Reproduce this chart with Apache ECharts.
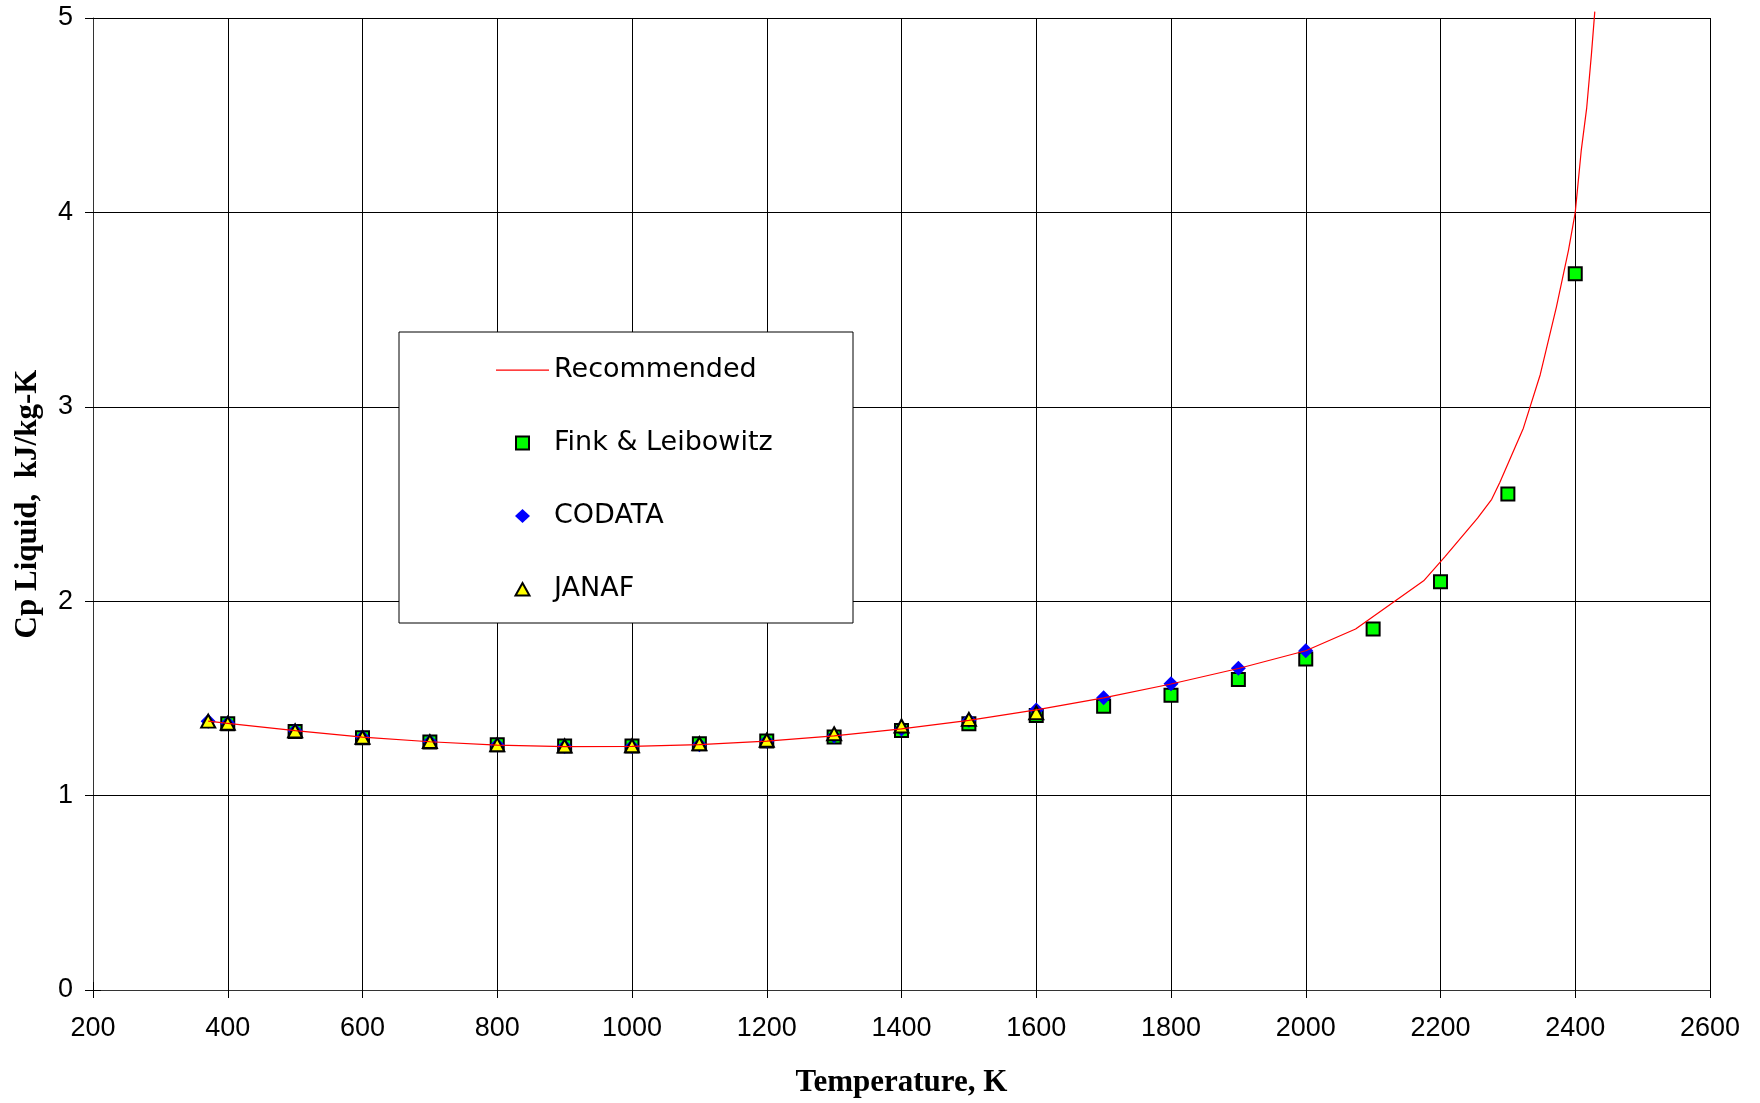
<!DOCTYPE html>
<html>
<head>
<meta charset="utf-8">
<script src="https://cdn.jsdelivr.net/npm/echarts@6/dist/echarts.min.js"></script>
<style>
  html, body { margin: 0; padding: 0; background: #fff; }
  #chart { width: 1760px; height: 1103px; }
</style>
</head>
<body>
<div id="chart"></div>
<script>
  // recommended curve
  var tempLine = [371, 400, 500, 600, 700, 800, 900, 1000, 1100, 1200, 1300, 1400, 1500, 1600, 1700, 1800, 1900, 2000,
                  2074, 2175, 2207, 2255, 2276, 2288, 2323, 2348, 2372, 2390, 2400, 2409, 2417, 2424, 2429];
  var cpLine   = [1.383, 1.372, 1.334, 1.301, 1.277, 1.260, 1.252, 1.253, 1.262, 1.280, 1.307, 1.343, 1.387, 1.441, 1.503, 1.574, 1.654, 1.745,
                  1.857, 2.105, 2.231, 2.427, 2.524, 2.611, 2.890, 3.165, 3.513, 3.806, 4.000, 4.322, 4.538, 4.813, 5.033];

  var tempFink = [400, 500, 600, 700, 800, 900, 1000, 1100, 1200, 1300, 1400, 1500, 1600, 1700, 1800, 1900, 2000, 2100, 2200, 2300, 2400];
  var cpFink   = [1.370, 1.330, 1.298, 1.276, 1.261, 1.255, 1.255, 1.267, 1.281, 1.301, 1.335, 1.370, 1.412, 1.460, 1.516, 1.597, 1.703, 1.857, 2.100, 2.551, 3.685];

  var tempCodata = [371, 400, 500, 600, 700, 800, 900, 1000, 1100, 1200, 1300, 1400, 1500, 1600, 1700, 1800, 1900, 2000];
  var cpCodata   = [1.383, 1.372, 1.334, 1.300, 1.277, 1.260, 1.252, 1.253, 1.262, 1.280, 1.307, 1.343, 1.387, 1.440, 1.503, 1.575, 1.655, 1.745];

  var tempJanaf = [371, 400, 500, 600, 700, 800, 900, 1000, 1100, 1200, 1300, 1400, 1500, 1600];
  var cpJanaf   = [1.383, 1.372, 1.333, 1.300, 1.278, 1.262, 1.255, 1.256, 1.267, 1.285, 1.318, 1.358, 1.392, 1.426];

  function pairs(xs, ys) {
    return xs.map(function (x, i) { return [x, ys[i]]; });
  }

  var chart = echarts.init(document.getElementById('chart'));

  var legendText = { fontFamily: 'DejaVu Sans', fontSize: 27, color: '#000', lineHeight: 30 };
  // legend icons: the leading moves pin the box to 53x15 so shapes are not stretched
  var box = 'path://M0,0 M53,15 ';

  var option = {
    animation: false,
    backgroundColor: '#fff',
    grid: { left: 93, top: 18, right: 50, bottom: 111 },
    graphic: [{
      type: 'rect',
      shape: { x: 399, y: 332, width: 454, height: 291 },
      style: { fill: '#fff', stroke: '#000', lineWidth: 1 },
      z: 50
    }],
    legend: {
      orient: 'vertical',
      left: 495,
      top: 355,
      padding: 0,
      itemWidth: 53,
      itemHeight: 15,
      itemGap: 43,
      z: 60,
      textStyle: legendText,
      data: [
        { name: 'Recommended', icon: box + 'M0,7 h53 v1.2 h-53 z' },
        { name: 'Fink & Leibowitz', icon: box + 'M20,1 h13 v13 h-13 z' },
        { name: 'CODATA', icon: box + 'M26.5,0.5 L34,7.5 L26.5,14.5 L19,7.5 z' },
        { name: 'JANAF', icon: box + 'M26.5,1.5 L33.5,14 L19.5,14 z' }
      ]
    },
    xAxis: [{
      type: 'value',
      min: 200, max: 2600, interval: 200,
      name: 'Temperature, K',
      nameLocation: 'middle',
      nameGap: 77,
      nameTextStyle: { fontFamily: 'Liberation Serif', fontWeight: 'bold', fontSize: 31, color: '#000' },
      axisLine: { show: true, lineStyle: { color: '#333', width: 1 } },
      axisTick: { show: true, length: 8, lineStyle: { color: '#000' } },
      axisLabel: { fontFamily: 'Liberation Sans', fontSize: 27, color: '#000', margin: 25,
                   formatter: function (v) { return String(v); } },
      splitLine: { show: true, lineStyle: { color: '#000', width: 1 } }
    }, {
      type: 'value',
      min: 200, max: 2600, interval: 200,
      position: 'bottom',
      axisLine: { show: false },
      axisTick: { show: true, inside: true, length: 8, lineStyle: { color: '#000' } },
      axisLabel: { show: false },
      splitLine: { show: false }
    }],
    yAxis: [{
      type: 'value',
      min: 0, max: 5, interval: 1,
      name: 'Cp Liquid,  kJ/kg-K',
      nameLocation: 'middle',
      nameGap: 50,
      nameTextStyle: { fontFamily: 'Liberation Serif', fontWeight: 'bold', fontSize: 31, color: '#000' },
      axisLine: { show: true, lineStyle: { color: '#333', width: 1 } },
      axisTick: { show: true, length: 8, lineStyle: { color: '#000' } },
      axisLabel: { fontFamily: 'Liberation Sans', fontSize: 27, color: '#000', margin: 20 },
      splitLine: { show: true, lineStyle: { color: '#000', width: 1 } }
    }, {
      type: 'value',
      min: 0, max: 5, interval: 1,
      position: 'left',
      axisLine: { show: false },
      axisTick: { show: true, inside: true, length: 8, lineStyle: { color: '#000' } },
      axisLabel: { show: false },
      splitLine: { show: false }
    }],
    series: [
      {
        name: 'Recommended',
        type: 'line',
        data: pairs(tempLine, cpLine),
        symbol: 'none',
        clip: false,
        lineStyle: { color: '#ff0000', width: 1.2 },
        itemStyle: { color: '#ff0000' }
      },
      {
        name: 'Fink & Leibowitz',
        type: 'scatter',
        data: pairs(tempFink, cpFink),
        symbol: 'rect',
        symbolSize: 13,
        itemStyle: { color: '#00ff00', borderColor: '#000', borderWidth: 2, opacity: 1 }
      },
      {
        name: 'CODATA',
        type: 'scatter',
        data: pairs(tempCodata, cpCodata),
        symbol: 'diamond',
        symbolSize: [15, 15],
        itemStyle: { color: '#0000ff', opacity: 1 }
      },
      {
        name: 'JANAF',
        type: 'scatter',
        data: pairs(tempJanaf, cpJanaf),
        symbol: 'triangle',
        symbolSize: [14, 13],
        itemStyle: { color: '#ffff00', borderColor: '#000', borderWidth: 2, opacity: 1 }
      }
    ]
  };

  chart.setOption(option);
</script>
</body>
</html>
